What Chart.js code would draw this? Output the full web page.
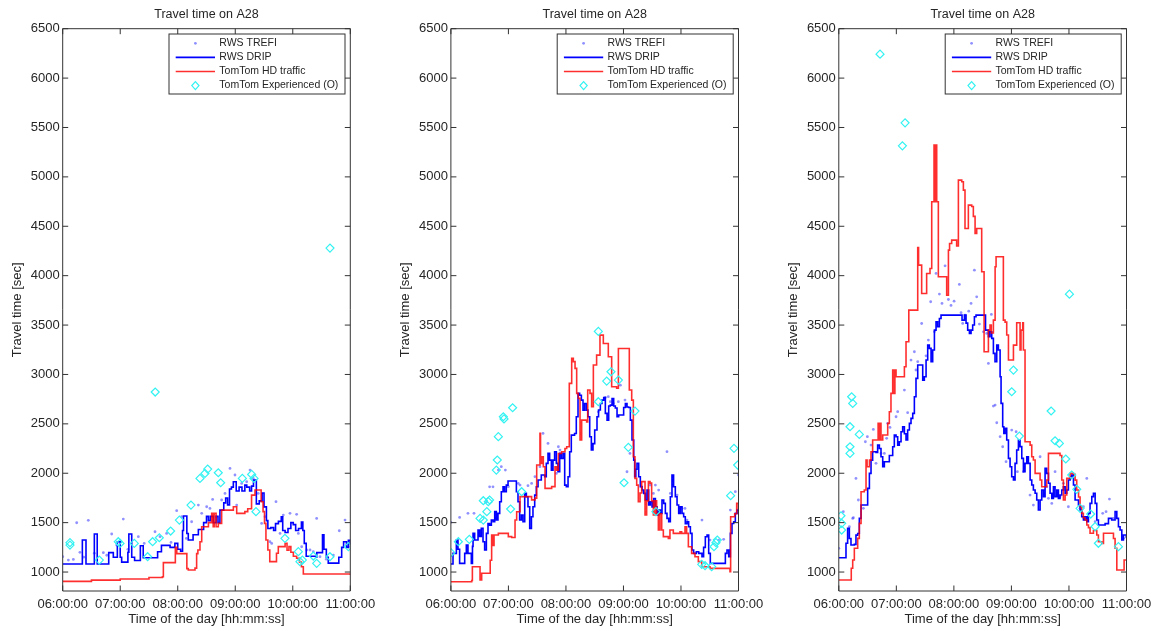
<!DOCTYPE html>
<html>
<head>
<meta charset="utf-8">
<title>Travel time on A28</title>
<script src="https://cdn.jsdelivr.net/npm/chart.js@4.4.1/dist/chart.umd.min.js"></script>
<style>
  html, body { margin: 0; padding: 0; background: #fff; }
  body { width: 1159px; height: 631px; position: relative; overflow: hidden; }
  canvas { position: absolute; top: 0; }
</style>
</head>
<body>
<canvas id="c1" width="390" height="631" style="left:0px"></canvas>
<canvas id="c2" width="390" height="631" style="left:388px"></canvas>
<canvas id="c3" width="383" height="631" style="left:776px"></canvas>
<script>
// x = minutes after 06:00, y = travel time in seconds
const seriesNames = ['RWS TREFI', 'RWS DRIP', 'TomTom HD traffic', 'TomTom Experienced (O)'];
const timeLabels = ['06:00:00', '07:00:00', '08:00:00', '09:00:00', '10:00:00', '11:00:00'];
const timeTicks = [0, 60, 120, 180, 240, 300];
const secTicks = [1000, 1500, 2000, 2500, 3000, 3500, 4000, 4500, 5000, 5500, 6000, 6500];
const chartTitle = 'Travel time on A28';
const xTitle = 'Time of the day [hh:mm:ss]';
const yTitle = 'Travel time [sec]';

// ---- panel 1 ----
const trefi1 = [[0,1155],[5.9,1121],[11.1,1128],[14.6,1499],[18,1200],[22,1150],[26.7,1523],[33,1190],[42.4,1196],[46,1170],[51.1,1385],[56.3,1273],[63.2,1536],[68,1230],[78.9,1358],[85,1290],[96.3,1408],[101.5,1358],[108.4,1391],[113,1300],[118.9,1621],[124.1,1560],[129,1340],[134.5,1509],[141.5,1678],[145,1594],[150.2,1661],[153.6,1644],[156.4,1735],[159.9,1560],[165.8,1729],[169.3,1796],[174.5,2049],[179.7,1982],[181.5,1678],[186.7,1897],[191.9,1914],[195.4,2032],[198.8,1948],[204,1796],[207.5,1492],[211,1560],[216.2,1307],[218,1290],[222.5,1712],[226.7,1391],[230.1,1577],[237.1,1594],[244,1584],[245.8,1391],[249.3,1256],[254.6,1223],[258,1223],[261.4,1206],[264.9,1543],[268.4,1155],[275,1130],[282.3,1172],[288.5,1418],[294.5,1526],[298,1256]];
const drip1 = [[0,1081],[19,1081],[20.5,1324],[23,1324],[24.3,1081],[32,1081],[33,1385],[35,1385],[36,1081],[47.6,1081],[48,1196],[52,1196],[52.8,1150],[56,1150],[57,1307],[59,1307],[60,1150],[61.5,1100],[66,1100],[68,1200],[69,1385],[70.5,1385],[72,1150],[75,1116],[80,1116],[81,1266],[83,1266],[84,1145],[98,1145],[99,1206],[102,1206],[103,1270],[110,1270],[112,1250],[117,1290],[120,1230],[123,1210],[125,1420],[126,1567],[128,1567],[129.5,1390],[131,1324],[135,1324],[136,1378],[140,1378],[141.5,1430],[145,1430],[147,1500],[150,1563],[152,1520],[154,1563],[157,1500],[160,1563],[162,1500],[164,1627],[167,1627],[168,1700],[170,1749],[172,1680],[174,1840],[176,1860],[178,1914],[180,1914],[181,1820],[184,1860],[187,1820],[190,1880],[192,1860],[195,1820],[197,1870],[199,1930],[201,1930],[202,1690],[205,1720],[208,1800],[210,1660],[212.5,1520],[214,1440],[217,1450],[220,1420],[222,1490],[225,1513],[228,1560],[229.5,1420],[232,1400],[235,1440],[238,1500],[240.5,1480],[243,1420],[246,1440],[249,1505],[250.5,1420],[252,1290],[254,1160],[264,1150],[265,1196],[270,1196],[271,1378],[272.5,1230],[275,1150],[277,1090],[286,1090],[288,1150],[291,1250],[293,1307],[296,1250],[298,1320],[300,1280]];
const hd1 = [[0,905],[30,918],[60,930],[90,945],[104,953],[105,1095],[117,1095],[117.5,1250],[119,1186],[129.3,1186],[129.5,1034],[131,1020],[138,1040],[139.7,1186],[141,1223],[143.2,1307],[145,1459],[150,1459],[152,1500],[155.4,1594],[157,1459],[158,1594],[160,1459],[162.3,1493],[165.8,1627],[172,1627],[178,1661],[181.5,1594],[186,1594],[190,1611],[193,1640],[197,1779],[200.6,1830],[205.8,1830],[207,1712],[209,1611],[210.5,1493],[212,1324],[214,1223],[216,1105],[221.4,1105],[223,1190],[224.9,1257],[230,1257],[232,1290],[234,1220],[236,1257],[238,1200],[240.6,1160],[244,1139],[247,1100],[249,1054],[251,980],[300,970]];
const exp1 = [[7.6,1297],[7.6,1273],[38.2,1121],[58,1307],[59.8,1290],[74.7,1290],[88.6,1155],[93.8,1307],[96.5,2822],[100.8,1347],[112.6,1415],[121.7,1526],[133.8,1678],[143.2,1948],[148.4,1998],[151.2,2042],[162.3,2005],[164.8,1904],[187.4,1948],[197.1,1988],[199.6,1948],[201.6,1611],[231.8,1341],[245.8,1206],[247.5,1105],[250,1121],[261.4,1162],[264.9,1088],[278.8,1155],[278.8,4279],[298,1257]];

// ---- panel 2 ----
const trefi2 = [[0,1503],[9.1,1553],[17.8,1594],[24.1,1594],[37.3,1712],[40.4,1863],[43.9,1863],[49.5,2032],[52.6,2066],[56.8,2032],[59.9,1864],[70.3,1897],[72.1,1880],[80.4,1874],[84.2,1897],[87.7,1965],[92.9,2066],[96.1,2403],[101.3,2302],[110,1998],[112.1,2268],[113.8,2235],[153.8,2622],[161.1,2767],[164.2,2775],[166.3,2724],[169.4,2707],[174.7,2724],[176.8,2892],[181.6,2741],[183.7,2015],[186.8,2201],[199,1864],[200.7,1813],[207.7,1880],[211.2,1796],[213.3,1880],[216.7,1830],[225.4,2218],[228.9,1796],[235.9,1779],[241.1,1644],[244.2,1644],[246.3,1526],[261.9,1526],[270.3,1324],[279.3,1324],[284.5,1331],[291.5,1627],[296.7,1813],[300,1982]];
const drip2 = [[0,1081],[2.2,1189],[4,1189],[5.7,1324],[7.4,1230],[9.1,1088],[12.6,1088],[14.4,1189],[16.1,1273],[17.8,1189],[21.3,1088],[22.5,1260],[23.1,1391],[24.8,1324],[28.3,1425],[30,1360],[31.7,1442],[33.5,1307],[35.2,1223],[37,1391],[38.7,1492],[40.4,1475],[42.2,1526],[44,1509],[45.7,1611],[47.4,1526],[49.1,1594],[50.9,1712],[52.6,1813],[54.4,1863],[56,1813],[57.8,1880],[59.6,1921],[66.5,1921],[68.3,1813],[70,1712],[71.7,1526],[73.5,1577],[75.2,1509],[77,1796],[78.7,1762],[80.4,1661],[82.2,1442],[84,1560],[85.6,1661],[87.4,1779],[89.1,1863],[90.9,1931],[94.3,1982],[97.8,1965],[99.5,2100],[101.3,2201],[103,2133],[104.8,2032],[106.5,2133],[108.2,2218],[110,2100],[111.7,2015],[113.5,2201],[115.2,2150],[117,2201],[118.7,1880],[120.4,1863],[122.2,1965],[123.9,2218],[125.6,2386],[129,2403],[130.8,2572],[132.6,2808],[134.3,2790],[136.1,2740],[137.8,2639],[139.5,2706],[141.3,2639],[143,2572],[144.8,2370],[146.5,2235],[148.2,2300],[150,2437],[152.4,2572],[154,2640],[155.9,2706],[157.6,2740],[159.4,2767],[161.1,2606],[162.9,2538],[164.6,2680],[166.3,2690],[168.1,2757],[169.8,2680],[171.5,2660],[173.3,2572],[175,2590],[178.5,2590],[180.2,2666],[182,2706],[183.7,2670],[185.4,2666],[187.2,2538],[188.9,2336],[190.7,2133],[191.7,1965],[192.9,2040],[194.1,2100],[195.9,1965],[197.6,1863],[199.4,1830],[201.1,1796],[202.8,1729],[204.6,1830],[206.3,1678],[208,1712],[209.8,1660],[211.5,1745],[213.3,1660],[215,1577],[216.7,1627],[218.5,1594],[220.2,1729],[222,1695],[223.7,1594],[225.4,1543],[227.2,1509],[228.9,1762],[230.6,1982],[232.3,1863],[234.1,1762],[235.9,1678],[237.6,1594],[239.3,1660],[241.1,1594],[242.8,1560],[244.5,1490],[246.3,1509],[248,1459],[249.8,1391],[251.5,1223],[253.2,1189],[256,1206],[258.5,1189],[261.9,1155],[263.6,1250],[265.4,1357],[267.2,1374],[268.9,1189],[270.6,1088],[284.5,1088],[286.3,1189],[288,1223],[289.8,1155],[291.5,1391],[293.2,1492],[295,1509],[296.7,1594],[298.5,1627],[300,1644]];
const hd2 = [[0,902],[21.7,915],[22.4,1054],[29.5,1054],[30.4,919],[32.1,987],[40,987],[41,1120],[42.5,1375],[44,1270],[45,1375],[49.5,1391],[58.2,1391],[59.9,1358],[63.4,1350],[66.9,1527],[68.6,1610],[72.1,1763],[82.5,1763],[84.2,1730],[87.7,1748],[89.5,2083],[91,2083],[92.9,2404],[93.5,2100],[94.7,2167],[96.4,2066],[98.2,1847],[101.6,1847],[105.1,1865],[108.6,2066],[110.3,2032],[112.1,2200],[115.5,2218],[119,2250],[120.8,2268],[123.5,2910],[126,3163],[127.7,3130],[129.5,3062],[131.2,2808],[132.9,2758],[134.7,2336],[136.4,2538],[141.6,2520],[142.7,2842],[145.1,2808],[146.8,2673],[148.6,3095],[152,3196],[155.5,3398],[159,3314],[162.5,3314],[164.2,3179],[167.7,2876],[172.9,2860],[174.7,3263],[185.1,3263],[186.1,2842],[188.6,2740],[190.3,2167],[192,1948],[193.8,1880],[195.5,1712],[197.3,1800],[199,1915],[200.7,1915],[202.5,1577],[204.2,1720],[206,1915],[207.7,1900],[209.4,1720],[211.2,1577],[212.9,1720],[214.6,1590],[216.4,1425],[218.1,1590],[219.9,1425],[221.6,1358],[226.8,1340],[228.5,1425],[232,1391],[239,1408],[240.7,1391],[244.2,1459],[245.9,1391],[247.7,1256],[251.1,1189],[254.6,1155],[258.1,1105],[261.6,1054],[266.8,1054],[270.3,1037],[291.1,1003],[291.8,1560],[296,1590],[298.1,1695],[300,1640]];
const exp2 = [[0,1196],[7.8,1307],[19.2,1331],[30.4,1543],[33.8,1526],[33.8,1722],[37.5,1611],[39,1712],[40.4,1729],[47.4,2032],[48.4,2134],[49.5,2370],[54.7,2572],[55.4,2550],[62.3,1638],[64.4,2663],[73.8,1813],[153.8,3436],[153.8,2724],[162.5,2933],[167,3027],[174.7,2943],[180.6,1904],[185.1,2262],[192,2629],[213.9,1611],[261.6,1078],[265.1,1064],[272,1054],[274.4,1256],[276.5,1297],[277.9,1324],[291.8,1773],[295.3,2252],[299.1,2083]];

// ---- panel 3 ----
const trefi3 = [[0,1240],[4.7,1611],[11,1459],[14.5,1543],[15.2,1550],[17.9,1948],[20.4,1729],[25.6,1645],[27.7,2319],[29.8,2370],[33.6,2285],[36,2444],[38.8,2100],[44,2201],[47.5,2201],[49.9,2353],[51,2505],[53.4,2464],[59.7,2572],[61.4,2623],[68.4,2842],[71.8,2613],[75.3,3146],[78.8,3230],[80.5,3045],[82.3,3129],[86.4,3516],[91,3189],[93.4,3348],[95.8,3736],[99.7,3433],[101.4,4023],[104.9,3814],[107.6,3719],[110.8,4100],[114.3,3759],[117,3699],[120.2,3742],[125.7,3911],[127.5,3625],[129.2,3517],[131.6,3601],[135.5,3641],[137.9,3719],[141.4,4056],[143.8,3786],[146.6,3510],[150.8,3432],[154.2,3415],[156,3112],[159.1,3608],[161.2,2680],[163,2690],[164.7,2511],[168.2,2370],[170.9,2268],[174.4,2117],[180.3,2437],[184.9,2420],[186.2,2016],[192.5,2016],[199.4,1779],[202.9,1678],[209.9,2167],[216.8,1864],[218.6,1746],[222.1,1695],[225.5,2016],[230.7,1763],[234.2,1898],[239.4,1661],[251.6,1645],[255.1,1661],[258.6,1948],[267.3,1510],[275.2,1594],[278.7,1611],[282.2,1739],[286.4,1543],[296.8,1341],[300,1358]];
const drip3 = [[0,1145],[5.8,1145],[7.5,1291],[9.2,1442],[11,1340],[12.7,1273],[16.2,1280],[17.9,1374],[19.7,1390],[21.4,1543],[23.2,1678],[28.4,1678],[30.1,1847],[31.9,1999],[33.6,2133],[35.3,2218],[38.8,2210],[40.5,2285],[42.3,2250],[44,2167],[45.8,2066],[47.5,2117],[51,2117],[52.7,2180],[56.2,2268],[57.9,2387],[59.7,2370],[61.4,2285],[63.1,2319],[64.9,2420],[66.6,2471],[68.4,2400],[70.1,2336],[71.8,2437],[73.6,2505],[75.3,2555],[77.1,2606],[78.8,2775],[80.5,2960],[82.3,3095],[85.7,3095],[87.5,2943],[89.2,2977],[91,3146],[92.7,3297],[94.4,3264],[96.2,3129],[97.9,3247],[99.7,3449],[101.4,3534],[103.1,3483],[104.9,3567],[106.6,3601],[127.5,3601],[128.5,3550],[131,3601],[132.7,3520],[134.4,3449],[136.2,3415],[137.9,3449],[139.6,3500],[141.4,3584],[143.1,3601],[152.5,3601],[153,3449],[156,3382],[157.7,3432],[159.5,3365],[161.2,3213],[162.9,3129],[164.7,3297],[166.4,3247],[168.2,2977],[169.2,2707],[170.9,2471],[172.1,2404],[173.4,2454],[175.1,2336],[176.9,2151],[178.6,2066],[180.3,1965],[182.1,1932],[183.8,2100],[185.5,2235],[187.3,2336],[189,2269],[190.8,2151],[192.5,2016],[194.2,2100],[196,2167],[197.7,2100],[199.5,1932],[201.2,1881],[202.9,1830],[204.7,1797],[206.4,1729],[208.1,1628],[209.9,1729],[211.6,1830],[213.4,1763],[215.1,2050],[216.8,1999],[218.6,1898],[220.3,1797],[222.1,1746],[223.8,1864],[225.5,1763],[227.3,1830],[229,1746],[230.7,1780],[232.5,1830],[234.2,1864],[236,1797],[237.7,1830],[239.4,1932],[241.2,1965],[242.9,1982],[244.7,1881],[246.4,1729],[248.1,1729],[249.9,1679],[251.6,1628],[253.3,1560],[255.1,1527],[256.8,1560],[258.6,1510],[260.3,1594],[262,1695],[263.8,1763],[265.5,1797],[267.3,1695],[269,1527],[270.7,1476],[277.7,1490],[281.2,1543],[284.6,1527],[288.1,1611],[289.9,1543],[291.6,1459],[293.3,1425],[295.1,1324],[296.8,1375],[298.6,1375],[300,1341]];
const hd3 = [[0,920],[12.7,920],[13,1038],[14.5,1122],[16.2,1240],[19.7,1341],[21.4,1493],[23.2,1813],[26.6,1830],[28.4,2133],[29.5,2066],[32,2133],[33.6,2218],[35.3,2336],[40.5,2336],[41,2505],[41.6,2336],[42.5,2505],[44,2336],[45.8,2387],[49.2,2387],[51,2505],[52.7,2623],[54.4,2808],[56.2,3045],[57.5,3045],[57.9,2808],[58.5,3045],[59.7,2977],[66.6,2977],[68.4,3078],[70.1,3331],[72.5,3331],[73,3651],[82,3651],[82.3,4285],[83.2,4107],[84,4107],[86.4,3820],[89.9,3820],[91.6,4022],[95.1,4073],[96.9,4748],[99.3,5321],[100.5,4748],[101.4,5321],[102.1,4748],[103.8,3989],[110.8,3989],[112.5,3803],[114.3,4259],[115.5,4326],[117.7,4360],[122.9,4300],[124.7,4967],[128.2,4950],[129.9,4866],[131.6,4478],[133.4,4478],[135.1,4714],[138.6,4700],[140.3,4600],[142.1,4427],[143.8,4478],[147.3,4478],[149,4040],[151.5,3230],[156,3449],[157.7,3500],[159,3420],[161.2,3550],[163,4090],[164,4191],[169.9,4191],[171.6,3550],[173.4,3530],[175.1,3399],[176.9,3146],[180.3,3146],[182.1,3297],[185.5,3523],[187.3,3523],[189,3247],[190,3449],[191.8,3523],[192.5,3247],[193.2,3247],[194.2,2319],[199.5,2285],[201.2,2167],[202.9,2134],[204.7,1999],[209.9,1932],[211.6,1864],[215.1,1864],[216.8,1932],[218.6,2201],[229,2201],[230.7,2180],[232.5,1932],[234.2,1729],[236,1780],[237.7,1948],[241.2,1999],[244.7,1990],[246.4,1930],[248.1,1830],[250,1760],[251.6,1662],[253.3,1594],[255,1550],[256.8,1527],[258.6,1476],[260.3,1450],[262,1392],[265.5,1420],[269,1375],[270.7,1307],[274.2,1290],[276,1392],[286.4,1340],[288.1,1240],[289.9,1021],[296.8,1021],[297.5,1122],[300,1122]];
const exp3 = [[2.3,1570],[3,1493],[3,1425],[11.7,2471],[11.7,2268],[11.7,2201],[13.4,2774],[14.5,2707],[21.4,2393],[43,6242],[66.3,5314],[69.1,5547],[180.3,2825],[182.1,3044],[188.3,2376],[221.4,2630],[225.5,2329],[230,2302],[236.7,2144],[240.5,3813],[242.9,1982],[248.1,1837],[251.6,1645],[262.7,1587],[267.3,1459],[270.7,1291],[291.6,1257]];

const TEXT = '#262626';
const FONT = 'Liberation Sans, Arial, Helvetica, sans-serif';
const TICK_LEN = 5.5;

function pts(arr) {
  return arr.map(p => ({ x: p[0], y: p[1] }));
}

// MATLAB-style box with inward ticks on all four sides
const axesBox = {
  id: 'axesBox',
  afterDatasetsDraw(chart) {
    const { ctx, chartArea: a, scales: { x, y } } = chart;
    ctx.save();
    ctx.strokeStyle = '#333';
    ctx.lineWidth = 1;
    ctx.beginPath();
    x.ticks.forEach(t => {
      const px = x.getPixelForValue(t.value);
      ctx.moveTo(px, a.bottom); ctx.lineTo(px, a.bottom - TICK_LEN);
      ctx.moveTo(px, a.top); ctx.lineTo(px, a.top + TICK_LEN);
    });
    y.ticks.forEach(t => {
      const py = y.getPixelForValue(t.value);
      ctx.moveTo(a.left, py); ctx.lineTo(a.left + TICK_LEN, py);
      ctx.moveTo(a.right, py); ctx.lineTo(a.right - TICK_LEN, py);
    });
    ctx.rect(a.left, a.top, a.right - a.left, a.bottom - a.top);
    ctx.stroke();
    ctx.restore();
  }
};

// boxed legend in the top right corner of the plot
const boxLegend = {
  id: 'boxLegend',
  afterDraw(chart) {
    const { ctx, chartArea: a } = chart;
    const w = 176, h = 60;
    const x0 = a.right - 5.3 - w, y0 = a.top + 5.3;
    ctx.save();
    ctx.fillStyle = '#fff';
    ctx.fillRect(x0, y0, w, h);
    ctx.strokeStyle = '#333';
    ctx.lineWidth = 1;
    ctx.strokeRect(x0, y0, w, h);
    ctx.font = '10.5px ' + FONT;
    ctx.textBaseline = 'middle';
    ctx.textAlign = 'left';
    chart.data.datasets.forEach((ds, i) => {
      const ry = y0 + 9.3 + i * 14.1;
      const mx = x0 + 26.4;
      if (ds.showLine === false) {
        if (ds.pointStyle === 'rectRot') {
          ctx.strokeStyle = ds.pointBorderColor;
          ctx.lineWidth = ds.pointBorderWidth;
          ctx.beginPath();
          ctx.moveTo(mx, ry - 4); ctx.lineTo(mx + 3.6, ry);
          ctx.lineTo(mx, ry + 4); ctx.lineTo(mx - 3.6, ry);
          ctx.closePath();
          ctx.stroke();
        } else {
          ctx.fillStyle = ds.pointBackgroundColor;
          ctx.beginPath();
          ctx.arc(mx, ry, ds.pointRadius, 0, Math.PI * 2);
          ctx.fill();
        }
      } else {
        ctx.strokeStyle = ds.borderColor;
        ctx.lineWidth = ds.borderWidth;
        ctx.beginPath();
        ctx.moveTo(x0 + 6.7, ry); ctx.lineTo(x0 + 46, ry);
        ctx.stroke();
      }
      ctx.fillStyle = TEXT;
      ctx.fillText(ds.label, x0 + 50.3, ry);
    });
    ctx.restore();
  }
};

function makePanel(id, yWidth, padRight, trefi, drip, hd, exp) {
  return new Chart(document.getElementById(id), {
    type: 'line',
    data: {
      datasets: [
        { label: seriesNames[0], data: pts(trefi), showLine: false, order: 3,
          pointRadius: 1.4, pointBorderWidth: 0, pointBackgroundColor: 'rgba(70,70,255,0.6)' },
        { label: seriesNames[1], data: pts(drip), stepped: true, order: 2,
          borderColor: '#0000ff', borderWidth: 1.6, pointRadius: 0 },
        { label: seriesNames[2], data: pts(hd), stepped: true, order: 1,
          borderColor: 'rgba(255,0,0,0.82)', borderWidth: 1.6, pointRadius: 0 },
        { label: seriesNames[3], data: pts(exp), showLine: false, order: 0,
          pointStyle: 'rectRot', pointRadius: 4, pointBorderWidth: 1.2,
          pointBorderColor: '#33f2f2', pointBackgroundColor: 'rgba(0,0,0,0)' }
      ]
    },
    options: {
      responsive: false,
      animation: false,
      events: [],
      layout: { padding: { left: 0, right: padRight, top: 0, bottom: 0 } },
      plugins: {
        legend: { display: false },
        tooltip: { enabled: false },
        title: {
          display: true, text: chartTitle, fullSize: false, color: TEXT,
          font: { family: FONT, size: 12.5, weight: 'normal' },
          padding: { top: 7, bottom: 6.7 }
        }
      },
      scales: {
        x: {
          type: 'linear', min: 0, max: 300,
          grid: { display: false, drawTicks: false },
          border: { display: false },
          afterBuildTicks: s => { s.ticks = timeTicks.map(v => ({ value: v })); },
          ticks: {
            padding: 6, color: TEXT, maxRotation: 0, autoSkip: false,
            font: { family: FONT, size: 13 },
            callback: v => timeLabels[timeTicks.indexOf(v)]
          },
          title: {
            display: true, text: xTitle, color: TEXT,
            font: { family: FONT, size: 13 }, padding: { top: 0, bottom: 4 }
          },
          afterFit: s => { s.height = 40; }
        },
        y: {
          type: 'linear', min: 808, max: 6500,
          grid: { display: false, drawTicks: false },
          border: { display: false },
          afterBuildTicks: s => { s.ticks = secTicks.map(v => ({ value: v })); },
          ticks: {
            padding: 3, color: TEXT, autoSkip: false,
            font: { family: FONT, size: 13 },
            callback: v => String(v)
          },
          title: {
            display: true, text: yTitle, color: TEXT,
            font: { family: FONT, size: 13 }, padding: { top: 10, bottom: 0 }
          },
          afterFit: s => { s.width = yWidth; }
        }
      }
    },
    plugins: [axesBox, boxLegend]
  });
}

makePanel('c1', 62.7, 39.7, trefi1, drip1, hd1, exp1);
makePanel('c2', 62.9, 39.5, trefi2, drip2, hd2, exp2);
makePanel('c3', 62.8, 32.5, trefi3, drip3, hd3, exp3);
</script>
</body>
</html>
